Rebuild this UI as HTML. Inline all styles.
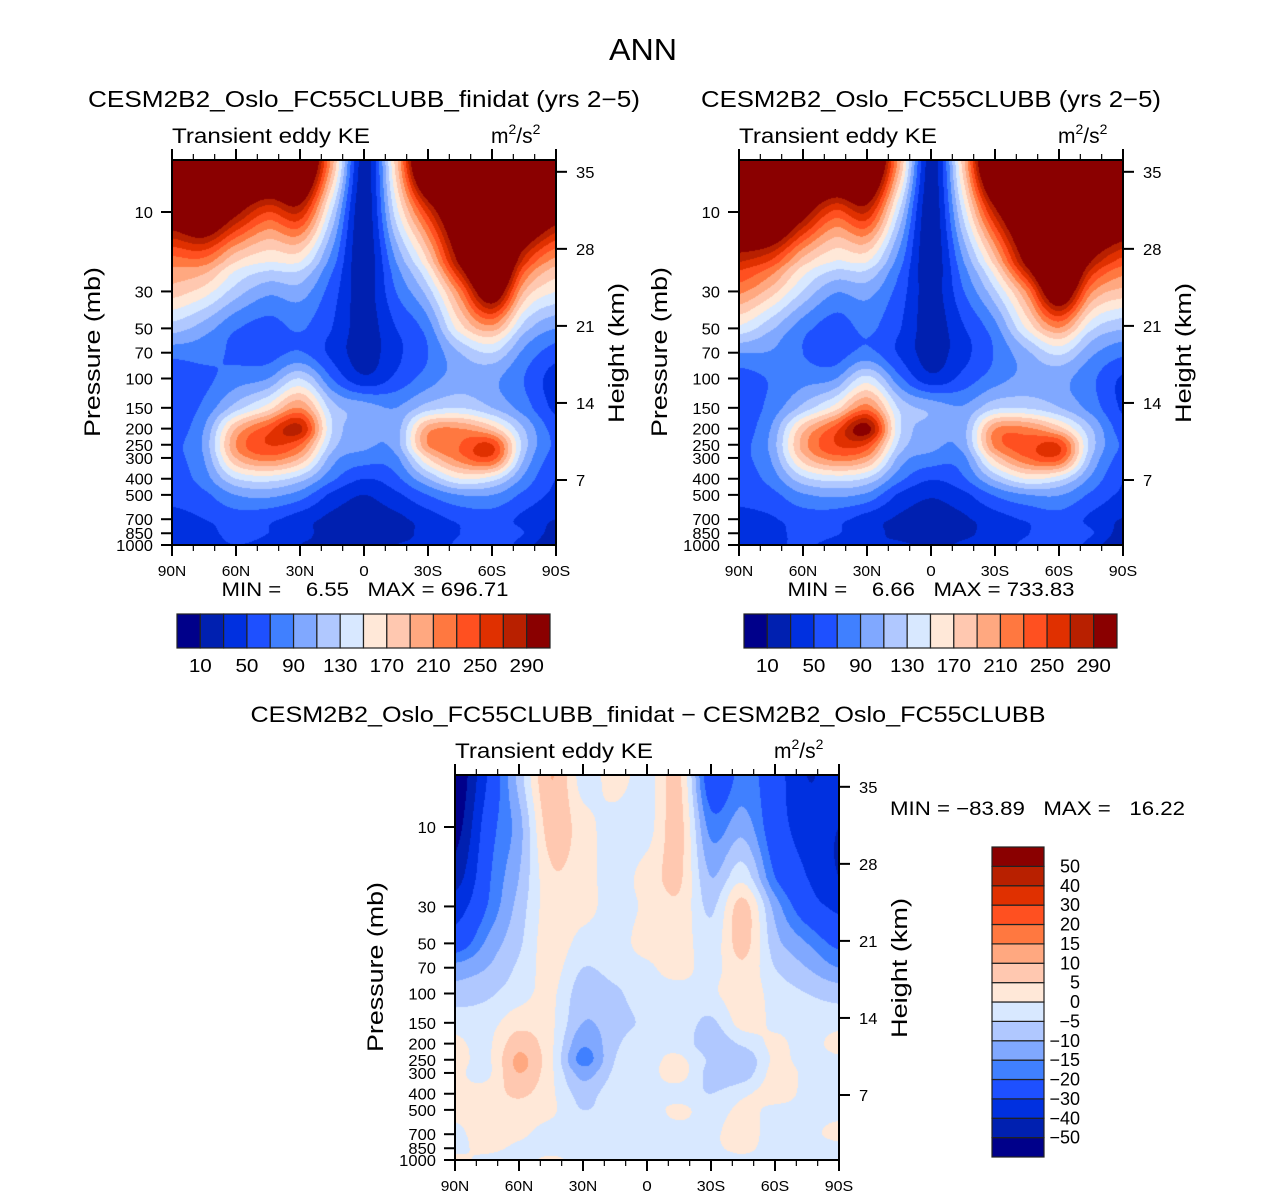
<!DOCTYPE html>
<html><head><meta charset="utf-8">
<style>
html,body{margin:0;padding:0;background:#fff;}
#root{position:relative;width:1285px;height:1197px;overflow:hidden;font-family:"Liberation Sans",sans-serif;}
canvas{position:absolute;}
svg{position:absolute;left:0;top:0;}
text{font-family:"Liberation Sans",sans-serif;fill:#000;}
</style></head>
<body>
<div id="root">
<canvas id="c1" width="384" height="385" style="left:172px;top:160px"></canvas>
<canvas id="c2" width="384" height="385" style="left:739px;top:160px"></canvas>
<canvas id="c3" width="384" height="385" style="left:455px;top:775px"></canvas>
<svg id="ov" width="1285" height="1197"></svg>
</div>
<script>
const lats=["90N","75N","60N","45N","30N","15N","EQ","15S","30S","45S","60S","75S","90S"];
const levels=[5,10,20,30,50,70,100,150,200,250,300,400,500,700,850,1000];
const pressTicks=[10,30,50,70,100,150,200,250,300,400,500,700,850,1000];
const heightTicks=[35,28,21,14,7];
const xTickLabels=["90N","60N","30N","0","30S","60S","90S"];
const keBounds=[10,30,50,70,90,110,130,150,170,190,210,230,250,270,290];
const keLabels=["10","50","90","130","170","210","250","290"];
const diffBounds=[-50,-40,-30,-20,-15,-10,-5,0,5,10,15,20,30,40,50];
const diffLabels=["50","40","30","20","15","10","5","0","\u22125","\u221210","\u221215","\u221220","\u221230","\u221240","\u221250"];
const colors=["#00008a","#0020b0","#0030e0","#1e50ff","#4080ff","#80a8ff","#b0c8ff","#d8e8ff","#ffe8d8","#ffc8b0","#ffa880","#ff7840","#ff5020","#e03000","#b82000","#8a0000"];
const ke1=[
[400,400,400,400,400,200, 20,180,400,400,400,400,400],
[330,360,300,250,270,130, 15,140,260,360,400,380,320],
[220,220,170,150,150, 80, 15, 90,170,300,400,260,200],
[180,160,120, 95,100, 60, 20, 70,120,220,330,190,150],
[120,100, 72, 62, 72, 50, 20, 50, 80,160,200,120, 90],
[ 78, 78, 66, 62, 72, 45, 20, 45, 70,110,130, 85, 60],
[ 52, 65, 80, 90,130, 70, 35, 55, 80,100, 95, 70, 40],
[ 55, 75,120,160,210,120,100, 90,120,130,110, 80, 45],
[ 60, 90,190,240,275,130,100,100,200,210,180,110, 60],
[ 65, 95,210,250,230,120, 95,100,210,230,250,120, 65],
[ 65, 90,190,220,190,100, 80, 85,170,220,240,110, 60],
[ 60, 80,130,140,120, 75, 50, 65,110,150,140, 85, 50],
[ 55, 65, 90, 95, 80, 45, 30, 45, 70, 90, 90, 65, 45],
[ 45, 50, 60, 55, 40, 25, 20, 25, 40, 55, 60, 45, 30],
[ 45, 45, 55, 50, 35, 25, 20, 25, 35, 50, 60, 50, 20],
[ 40, 45, 50, 45, 30, 30, 25, 30, 35, 55, 65, 40, 10]];
const ke2=[
[400,400,400,400,400,200, 20,180,400,400,400,400,400],
[390,390,310,245,270,130, 15,135,280,370,400,400,360],
[270,245,180,148,150, 80, 15, 88,180,305,400,290,240],
[215,180,128, 92, 98, 62, 20, 68,126,215,340,215,182],
[145,114, 78, 60, 74, 52, 19, 48, 83,153,208,135,112],
[ 91, 88, 70, 60, 76, 48, 21, 43, 72,106,135, 95, 75],
[ 60, 72, 82, 89,138, 76, 37, 57, 81, 97, 97, 75, 47],
[ 57, 77,117,159,220,127,104, 92,126,128,111, 82, 47],
[ 59, 91,182,239,300,136,102,102,208,214,179,112, 58],
[ 63, 96,199,249,247,125, 97, 99,216,239,249,122, 66],
[ 64, 91,180,219,202,104, 82, 83,177,228,238,111, 61],
[ 59, 78,124,139,127, 77, 52, 67,115,151,138, 86, 51],
[ 54, 63, 87, 94, 85, 47, 32, 44, 72, 89, 91, 66, 46],
[ 46, 48, 59, 57, 41, 27, 22, 27, 41, 53, 62, 46, 29],
[ 46, 44, 56, 52, 37, 26, 22, 27, 36, 49, 62, 52, 21],
[ 39, 46, 52, 44, 32, 32, 27, 32, 37, 56, 67, 42, 10]];
const diff=[
[-60,-30, -8, 10, -2,  2, -2,  6,-25,-18,-25,-40,-35],
[-55,-25,-12,  8,  2, -2, -2,  7,-17,-12,-25,-35,-40],
[-45,-22,-10,  4,  2, -2,  2,  6,-10, -2,-20,-30,-40],
[-35,-20, -8,  3,  2, -2,  1,  4, -6,  7,-12,-25,-32],
[-25,-14, -6,  3, -2, -2,  2,  3, -3,  7, -8,-15,-22],
[-13,-10, -4,  2, -5, -3, -1,  2, -2,  4, -5,-10,-15],
[ -8, -6, -2,  1, -8, -6, -2, -2, -1,  3, -2, -5, -7],
[ -2, -2,  3,  1,-10, -7, -4, -2, -6,  2, -1, -2, -2],
[  1, -1,  8,  1,-14, -6, -2, -2, -8, -4,  1, -2,  2],
[  2, -1, 11,  1,-17, -5, -2,  1, -6, -9,  1, -2, -1],
[  1, -1, 10,  1,-12, -4, -2,  2, -7, -8,  2, -1, -1],
[  1,  2,  6,  1, -7, -2, -2, -2, -5, -1,  2, -1, -1],
[  1,  2,  3,  1, -5, -2, -2,  1, -2,  1, -1, -1, -1],
[ -1,  2,  1, -2, -1, -2, -2, -2, -1,  2, -2, -1,  1],
[ -1,  1, -1, -2, -2, -1, -2, -2, -1,  1, -2, -2, -1],
[  1, -1, -2,  1, -2, -2, -2, -2, -2, -1, -2, -2,  0]];

const W=384,H=385,PXDEC=166.5;
function yOfP(p){return 52+PXDEC*(Math.log10(p)-1);}
function pOfY(y){return Math.pow(10,1+(y-52)/PXDEC);}
function xOfLat(latDeg){return (90-latDeg)/180*W;}
function hex(c){return [parseInt(c.substr(1,2),16),parseInt(c.substr(3,2),16),parseInt(c.substr(5,2),16)];}
const rgb=colors.map(hex);
const logLev=levels.map(v=>Math.log10(v));
function cr(p0,p1,p2,p3,t){return 0.5*((2*p1)+(-p0+p2)*t+(2*p0-5*p1+4*p2-p3)*t*t+(-p0+3*p1-3*p2+p3)*t*t*t);}
function sample(grid,fx,lp){
  const nx=lats.length-1,ny=levels.length-1;
  let i=Math.min(nx-1,Math.max(0,Math.floor(fx))),tx=Math.min(1,Math.max(0,fx-i));
  let j=0; if(lp>logLev[0]){while(j<ny-1&&lp>logLev[j+1])j++;}
  let ty=Math.min(1,Math.max(0,(lp-logLev[j])/(logLev[j+1]-logLev[j])));
  const row=r=>{r=Math.min(ny,Math.max(0,r));const g=grid[r];const c=k=>g[Math.min(nx,Math.max(0,k))];
    return cr(c(i-1),c(i),c(i+1),c(i+2),tx);};
  return cr(row(j-1),row(j),row(j+1),row(j+2),ty);
}
function colorIdx(v,bounds){let k=0;while(k<bounds.length&&v>=bounds[k])k++;return k;}
function drawPanel(id,grid,bounds){
  const cv=document.getElementById(id),ctx=cv.getContext('2d');
  const img=ctx.createImageData(W,H);
  for(let y=0;y<H;y++){
    const lp=Math.log10(pOfY(y+0.5));
    for(let x=0;x<W;x++){
      const fx=(x+0.5)/W*(lats.length-1);
      const v=sample(grid,fx,lp);
      const c=rgb[colorIdx(v,bounds)];
      const o=(y*W+x)*4;img.data[o]=c[0];img.data[o+1]=c[1];img.data[o+2]=c[2];img.data[o+3]=255;
    }
  }
  ctx.putImageData(img,0,0);
}
drawPanel('c1',ke1,keBounds);
drawPanel('c2',ke2,keBounds);
drawPanel('c3',diff,diffBounds);

const NS="http://www.w3.org/2000/svg";const ov=document.getElementById('ov');
function el(tag,attrs,parent){const e=document.createElementNS(NS,tag);for(const k in attrs)e.setAttribute(k,attrs[k]);(parent||ov).appendChild(e);return e;}
function txt(s,x,y,size,anchor,parent,len){const a={x:x,y:y,'font-size':size,'text-anchor':anchor||'middle'};if(len){a.textLength=len;a.lengthAdjust='spacingAndGlyphs';}const t=el('text',a,parent);t.textContent=s;return t;}
function heightToP(z){return 1181*Math.exp(-z/6.57);}
function axes(ox,oy,name){
  const g=el('g',{});
  
  
  el('rect',{x:ox,y:oy,width:W,height:H,fill:'none',stroke:'#000','stroke-width':2},g);
  for(let d=0;d<=180;d+=10){
    const x=ox+xOfLat(90-d),major=d%30===0,len=major?11:6;
    el('line',{x1:x,y1:oy+H,x2:x,y2:oy+H+len,stroke:'#000','stroke-width':major?2:1.2},g);
    el('line',{x1:x,y1:oy,x2:x,y2:oy-len,stroke:'#000','stroke-width':major?2:1.2},g);
  }
  xTickLabels.forEach((s,k)=>{const t=txt(s,ox+k*W/6,oy+H+31,15,'middle',g,s.length*9.5);});
  pressTicks.forEach(p=>{const y=oy+yOfP(p);el('line',{x1:ox-11,y1:y,x2:ox,y2:y,stroke:'#000','stroke-width':2},g);
    const s=String(p);const t=txt(s,ox-19,y+6,16,'end',g,s.length*9.2);});
  heightTicks.forEach(z=>{const y=oy+yOfP(heightToP(z));el('line',{x1:ox+W,y1:y,x2:ox+W+11,y2:y,stroke:'#000','stroke-width':2},g);
    const s=String(z);const t=txt(s,ox+W+20,y+6,16,'start',g,s.length*9.2);});
  const t1=el('text',{x:0,y:0,'font-size':22,'text-anchor':'middle',textLength:170,lengthAdjust:'spacingAndGlyphs',transform:`translate(${ox-72},${oy+192}) rotate(-90)`},g);t1.textContent='Pressure  (mb)';
  
  const t2=el('text',{x:0,y:0,'font-size':22,'text-anchor':'middle',textLength:140,lengthAdjust:'spacingAndGlyphs',transform:`translate(${ox+W+68},${oy+193}) rotate(-90)`},g);t2.textContent='Height  (km)';
  
  const t3=txt('Transient eddy KE',ox,oy-17,21,'start',g,198);
  const u=el('text',{x:ox+W-65,y:oy-17,'font-size':21},g);
  
  u.innerHTML='m<tspan dy="-9" font-size="14">2</tspan><tspan dy="9">/s</tspan><tspan dy="-9" font-size="14">2</tspan>';
}
axes(172,160,'panel1');axes(739,160,'panel2');axes(455,775,'panel3');

function hbar(ox,oy,name){
  const g=el('g',{});
  
  
  const bw=373/16;
  colors.forEach((c,k)=>el('rect',{x:ox+k*bw,y:oy,width:bw,height:34,fill:c,stroke:'#222','stroke-width':1.2},g));
  keLabels.forEach((s,k)=>{const t=txt(s,ox+(2*k+1)*bw,oy+58,18,'middle',g,s.length*11.5);});
}
hbar(177,614,'colorbar-panel1');hbar(744,614,'colorbar-panel2');
(function(){
  const g=el('g',{});
  
  
  const bh=310/16;
  colors.forEach((c,k)=>el('rect',{x:992,y:847+(15-k)*bh,width:52,height:bh,fill:c,stroke:'#222','stroke-width':1.2},g));
  diffLabels.forEach((s,k)=>{const t=txt(s,1080,847+(k+1)*bh+6,18,'end',g);});
})();
function lab(s,x,y,size,anchor,name,len){const t=txt(s,x,y,size,anchor,null,len);t.setAttribute('xml:space','preserve');t.style.whiteSpace='pre';return t;}
lab('ANN',643,60,31,'middle','figure-title',68);
lab('CESM2B2_Oslo_FC55CLUBB_finidat (yrs 2\u22125)',364,107,23,'middle','panel1-title',552);
lab('CESM2B2_Oslo_FC55CLUBB (yrs 2\u22125)',931,107,23,'middle','panel2-title',460);
lab('CESM2B2_Oslo_FC55CLUBB_finidat \u2212 CESM2B2_Oslo_FC55CLUBB',648,722,22,'middle','panel3-title',795);
lab('MIN =    6.55   MAX = 696.71',365,596,19,'middle','panel1-minmax',287);
lab('MIN =    6.66   MAX = 733.83',931,596,19,'middle','panel2-minmax',287);
lab('MIN = \u221283.89   MAX =   16.22',890,815,19,'start','panel3-minmax',295);
</script>
</body></html>
